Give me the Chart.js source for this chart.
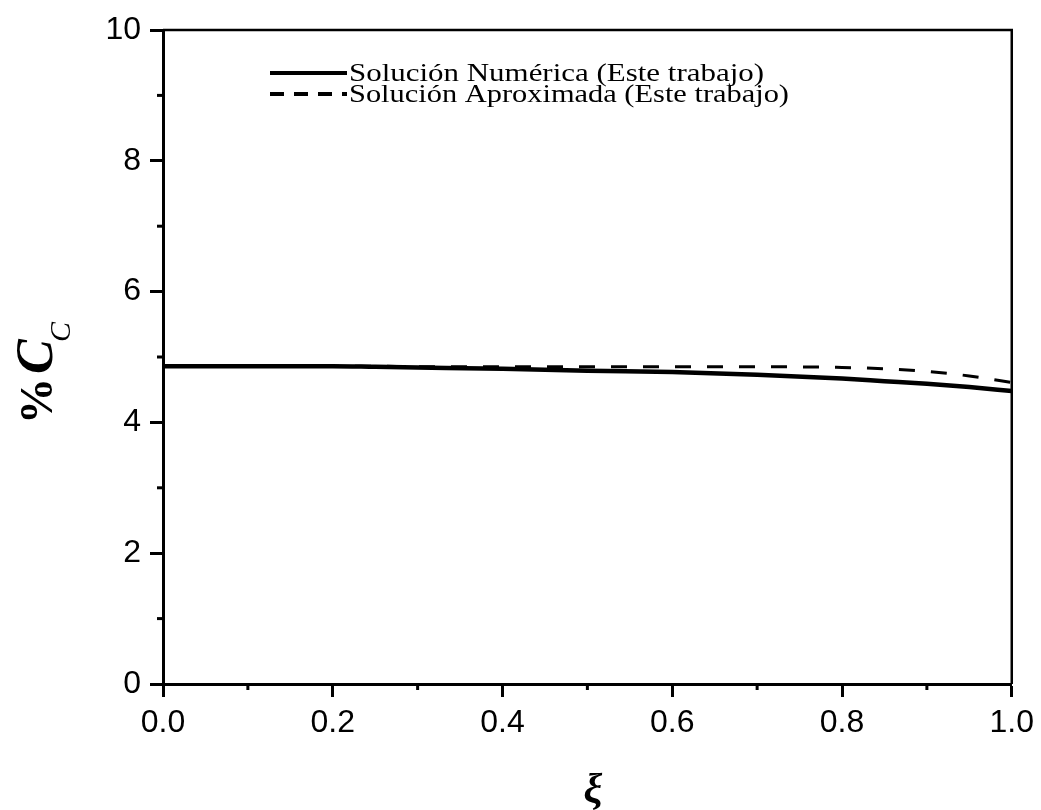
<!DOCTYPE html>
<html>
<head>
<meta charset="utf-8">
<script src="https://cdn.jsdelivr.net/npm/chart.js@4.4.1/dist/chart.umd.min.js"></script>
<style>
  html, body { margin: 0; padding: 0; background: #fff; }
  #wrap { width: 1041px; height: 810px; }
</style>
</head>
<body>
<div id="wrap"><canvas id="c" width="1041" height="810"></canvas></div>
<script>
// Dimensionless position along the domain
const xi = [0, 0.1, 0.2, 0.25, 0.3, 0.4, 0.5, 0.6, 0.7, 0.8, 0.85, 0.9, 0.95, 1.0];
// % C_C from the numerical solution
const numerica = [4.86, 4.86, 4.86, 4.85, 4.84, 4.82, 4.79, 4.77, 4.73, 4.67, 4.63, 4.59, 4.54, 4.48];
// % C_C from the approximate solution
const aproximada = [4.86, 4.86, 4.86, 4.86, 4.85, 4.85, 4.85, 4.85, 4.85, 4.84, 4.82, 4.78, 4.71, 4.61];

const seriesLabels = ['Solución Numérica (Este trabajo)', 'Solución Aproximada (Este trabajo)'];
const xMajorTicks = [0, 0.2, 0.4, 0.6, 0.8, 1.0];
const xMinorTicks = [0.1, 0.3, 0.5, 0.7, 0.9];
const yMajorTicks = [0, 2, 4, 6, 8, 10];
const yMinorTicks = [1, 3, 5, 7, 9];

const toPoints = (ys) => xi.map((x, i) => ({ x: x, y: ys[i] }));

// Minor ticks, the top/right frame, the legend and the axis titles
const decorations = {
  id: 'decorations',
  afterDraw(chart) {
    const ctx = chart.ctx;
    const xs = chart.scales.x, ys = chart.scales.y;
    const a = chart.chartArea;
    ctx.save();
    ctx.strokeStyle = '#000';
    ctx.fillStyle = '#000';

    // frame top and right
    ctx.lineWidth = 2.5;
    ctx.beginPath();
    ctx.moveTo(a.left, a.top);
    ctx.lineTo(a.right, a.top);
    ctx.lineTo(a.right, a.bottom);
    ctx.stroke();

    // minor ticks
    ctx.lineWidth = 3;
    xMinorTicks.forEach(v => {
      const px = xs.getPixelForValue(v);
      ctx.beginPath(); ctx.moveTo(px, a.bottom); ctx.lineTo(px, a.bottom + 6); ctx.stroke();
    });
    yMinorTicks.forEach(v => {
      const py = ys.getPixelForValue(v);
      ctx.beginPath(); ctx.moveTo(a.left, py); ctx.lineTo(a.left - 6, py); ctx.stroke();
    });

    // legend
    const legendRows = [
      { y: 73, width: 4, dash: [], label: chart.data.datasets[0].label },
      { y: 94, width: 4, dash: [14, 10], label: chart.data.datasets[1].label }
    ];
    const textWidths = [415, 440];
    legendRows.forEach((row, i) => {
      ctx.lineWidth = row.width;
      ctx.setLineDash(row.dash);
      ctx.beginPath(); ctx.moveTo(270, row.y); ctx.lineTo(347, row.y); ctx.stroke();
      ctx.setLineDash([]);
      ctx.font = '26px "Liberation Serif", "DejaVu Serif", serif';
      ctx.textBaseline = 'middle';
      ctx.textAlign = 'left';
      const w = ctx.measureText(row.label).width;
      ctx.save();
      ctx.translate(349, row.y + 1);
      ctx.scale(textWidths[i] / w, 1);
      ctx.fillText(row.label, 0, 0);
      ctx.restore();
    });

    // y-axis title: % C_C
    ctx.save();
    ctx.translate(52, 424);
    ctx.rotate(-Math.PI / 2);
    ctx.textBaseline = 'alphabetic';
    ctx.textAlign = 'left';
    ctx.font = 'bold 46px "Liberation Serif", serif';
    ctx.fillText('%', 0, 0);
    ctx.font = 'bold italic 52px "Liberation Serif", serif';
    ctx.fillText('C', 50, 0);
    ctx.font = 'italic 30px "Liberation Serif", serif';
    ctx.fillText('C', 82, 18);
    ctx.restore();

    // x-axis title: xi
    ctx.font = 'italic bold 42px "Liberation Serif", serif';
    ctx.textAlign = 'center';
    ctx.textBaseline = 'alphabetic';
    ctx.fillText('ξ', 593, 803);

    ctx.restore();
  }
};

new Chart(document.getElementById('c'), {
  type: 'line',
  data: {
    datasets: [
      {
        label: seriesLabels[0],
        data: toPoints(numerica),
        borderColor: '#000',
        borderWidth: 4.5,
        pointRadius: 0,
        cubicInterpolationMode: 'monotone',
        fill: false
      },
      {
        label: seriesLabels[1],
        data: toPoints(aproximada),
        borderColor: '#000',
        borderWidth: 3,
        borderDash: [16, 16],
        pointRadius: 0,
        cubicInterpolationMode: 'monotone',
        fill: false
      }
    ]
  },
  options: {
    responsive: false,
    animation: false,
    events: [],
    layout: { padding: { left: 0, right: 28, top: 30, bottom: 0 } },
    plugins: { legend: { display: false }, tooltip: { enabled: false } },
    scales: {
      x: {
        type: 'linear',
        min: 0, max: 1,
        afterBuildTicks: (s) => { s.ticks = xMajorTicks.map(v => ({ value: v })); },
        afterFit: (s) => { s.height = 126; },
        border: { display: true, color: '#000', width: 3 },
        grid: { display: true, drawOnChartArea: false, drawTicks: true, tickLength: 13, tickWidth: 3, tickColor: '#000' },
        ticks: {
          color: '#000',
          padding: 7,
          maxRotation: 0,
          font: { family: '"Liberation Sans", Arial, sans-serif', size: 32 },
          callback: (v) => Number(v).toFixed(1)
        }
      },
      y: {
        type: 'linear',
        min: 0, max: 10,
        afterBuildTicks: (s) => { s.ticks = yMajorTicks.map(v => ({ value: v })); },
        afterFit: (s) => { s.width = 163; },
        border: { display: true, color: '#000', width: 3 },
        grid: { display: true, drawOnChartArea: false, drawTicks: true, tickLength: 13, tickWidth: 3, tickColor: '#000' },
        ticks: {
          color: '#000',
          padding: 9,
          font: { family: '"Liberation Sans", Arial, sans-serif', size: 32 },
          callback: (v) => String(v)
        }
      }
    }
  },
  plugins: [decorations]
});
</script>
</body>
</html>
